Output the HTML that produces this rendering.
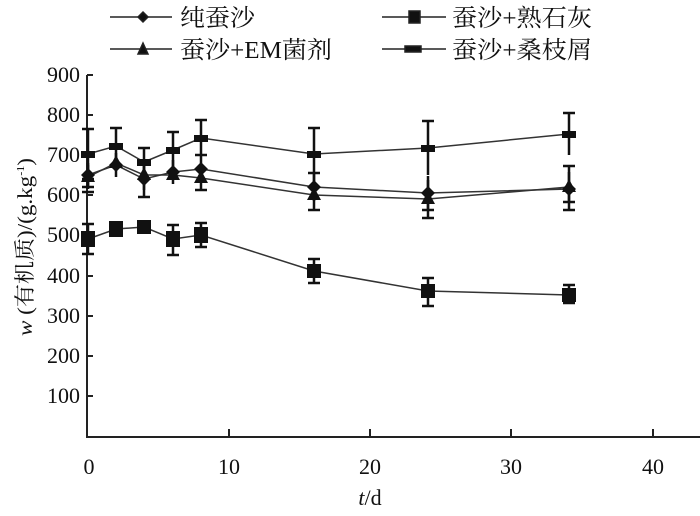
<!DOCTYPE html>
<html><head><meta charset="utf-8"><style>
body{margin:0;background:#fff}
svg text{font-family:"Liberation Serif","Noto Serif CJK SC",serif;fill:#111}
</style></head><body>
<svg width="700" height="511" viewBox="0 0 700 511" xmlns="http://www.w3.org/2000/svg">
<!-- legend -->
<g stroke="#222" stroke-width="1.5" fill="#111">
<line x1="110" y1="17" x2="172" y2="17"/><path d="M143 12 L148 17 L143 22 L138 17Z"/>
<line x1="382" y1="17" x2="446" y2="17"/><rect x="409" y="11" width="11" height="12"/>
<line x1="110" y1="49" x2="172" y2="49"/><path d="M143 43 L148 54 L138 54Z"/>
<line x1="382" y1="49" x2="446" y2="49"/><rect x="405" y="46" width="16" height="6"/>
</g>
<text x="180" y="26" font-size="24" textLength="75" lengthAdjust="spacingAndGlyphs">纯蚕沙</text>
<text x="452" y="26" font-size="24" textLength="140" lengthAdjust="spacingAndGlyphs">蚕沙+熟石灰</text>
<text x="180" y="58" font-size="24" textLength="152" lengthAdjust="spacingAndGlyphs">蚕沙+EM菌剂</text>
<text x="452" y="58" font-size="24" textLength="140" lengthAdjust="spacingAndGlyphs">蚕沙+桑枝屑</text>
<!-- axes -->
<g stroke="#222" stroke-width="2" fill="none">
<path d="M87 75 L87 437 L700 437"/>
<path d="M87 75h6M87 115h6M87 155h6M87 195h6M87 235h6M87 276h6M87 316h6M87 356h6M87 396h6"/>
<path d="M229 437v-8M370 437v-8M511 437v-8M653 437v-8"/>
</g>
<g font-size="22" text-anchor="end">
<text x="80" y="82">900</text><text x="80" y="122">800</text><text x="80" y="162">700</text><text x="80" y="202">600</text><text x="80" y="242">500</text><text x="80" y="283">400</text><text x="80" y="323">300</text><text x="80" y="363">200</text><text x="80" y="403">100</text>
</g>
<g font-size="22" text-anchor="middle">
<text x="89" y="474">0</text><text x="229" y="474">10</text><text x="370" y="474">20</text><text x="511" y="474">30</text><text x="653" y="474">40</text>
<text x="370" y="505"><tspan font-style="italic">t</tspan>/d</text>
</g>
<text transform="translate(32 336) rotate(-90)" font-size="21" textLength="178" lengthAdjust="spacingAndGlyphs"><tspan font-style="italic">w</tspan> (有机质)/(g.kg<tspan font-size="11" dy="-8">-1</tspan><tspan dy="8">)</tspan></text>
<!-- series lines -->
<g stroke="#333" stroke-width="1.5" fill="none">
<polyline points="88,154 116,146 144,162 173,150 201,138 314,154 428,148 569,134"/>
<polyline points="88,175 116,165 144,179 173,172 201,169 314,187 428,193 569,189"/>
<polyline points="88,177 116,163 144,175 173,175 201,178 314,195 428,199 569,187"/>
<polyline points="88,239 116,229 144,227 173,239 201,235 314,271 428,291 569,295"/>
</g>
<!-- error bars -->
<g stroke="#111" stroke-width="2.5" fill="none">
<path d="M88 129v50M82 129h12M82 179h12 M116 128v36M110 128h12 M144 148v28M138 148h12 M173 132v36M167 132h12 M201 120v36M195 120h12 M314 128v52M308 128h12 M428 121v54M422 121h12 M569 113v42M563 113h12"/>
<path d="M88 163v24M82 187h12 M116 153v24 M144 165v32M138 197h12 M173 160v24 M201 155v28M195 155h12 M314 173v28M308 173h12 M428 176v34M422 210h12 M569 166v44M563 166h12M563 210h12"/>
<path d="M88 165v24M82 192h12 M144 160v30 M201 165v26M195 190h12 M314 180v30M308 210h12 M428 180v38M422 218h12 M569 172v30M563 202h12"/>
<path d="M88 224v30M82 224h12M82 254h12 M116 221v16 M144 222v10 M173 225v30M167 225h12M167 255h12 M201 223v24M195 223h12M195 247h12 M314 259v24M308 259h12M308 283h12 M428 278v28M422 278h12M422 306h12 M569 285v18M563 285h12M563 303h12"/>
</g>
<!-- markers -->
<g fill="#111">
<g><rect x="81" y="151" width="14" height="7"/><rect x="109" y="143" width="14" height="7"/><rect x="137" y="159" width="14" height="7"/><rect x="166" y="147" width="14" height="7"/><rect x="194" y="135" width="14" height="7"/><rect x="307" y="151" width="14" height="7"/><rect x="421" y="145" width="14" height="7"/><rect x="562" y="131" width="14" height="7"/></g>
<g><path d="M88 168l7 7-7 7-7-7z M116 158l7 7-7 7-7-7z M144 172l7 7-7 7-7-7z M173 165l7 7-7 7-7-7z M201 162l7 7-7 7-7-7z M314 180l7 7-7 7-7-7z M428 186l7 7-7 7-7-7z M569 182l7 7-7 7-7-7z"/></g>
<g><path d="M88 169l7 13h-14z M116 155l7 13h-14z M144 167l7 13h-14z M173 167l7 13h-14z M201 170l7 13h-14z M314 187l7 13h-14z M428 191l7 13h-14z M569 179l7 13h-14z"/></g>
<g><rect x="81" y="231" width="14" height="16"/><rect x="109" y="221" width="14" height="16"/><rect x="137" y="220" width="14" height="14"/><rect x="166" y="231" width="14" height="16"/><rect x="194" y="227" width="14" height="16"/><rect x="307" y="264" width="14" height="14"/><rect x="421" y="284" width="14" height="14"/><rect x="562" y="288" width="14" height="14"/></g>
</g>
</svg>
</body></html>
